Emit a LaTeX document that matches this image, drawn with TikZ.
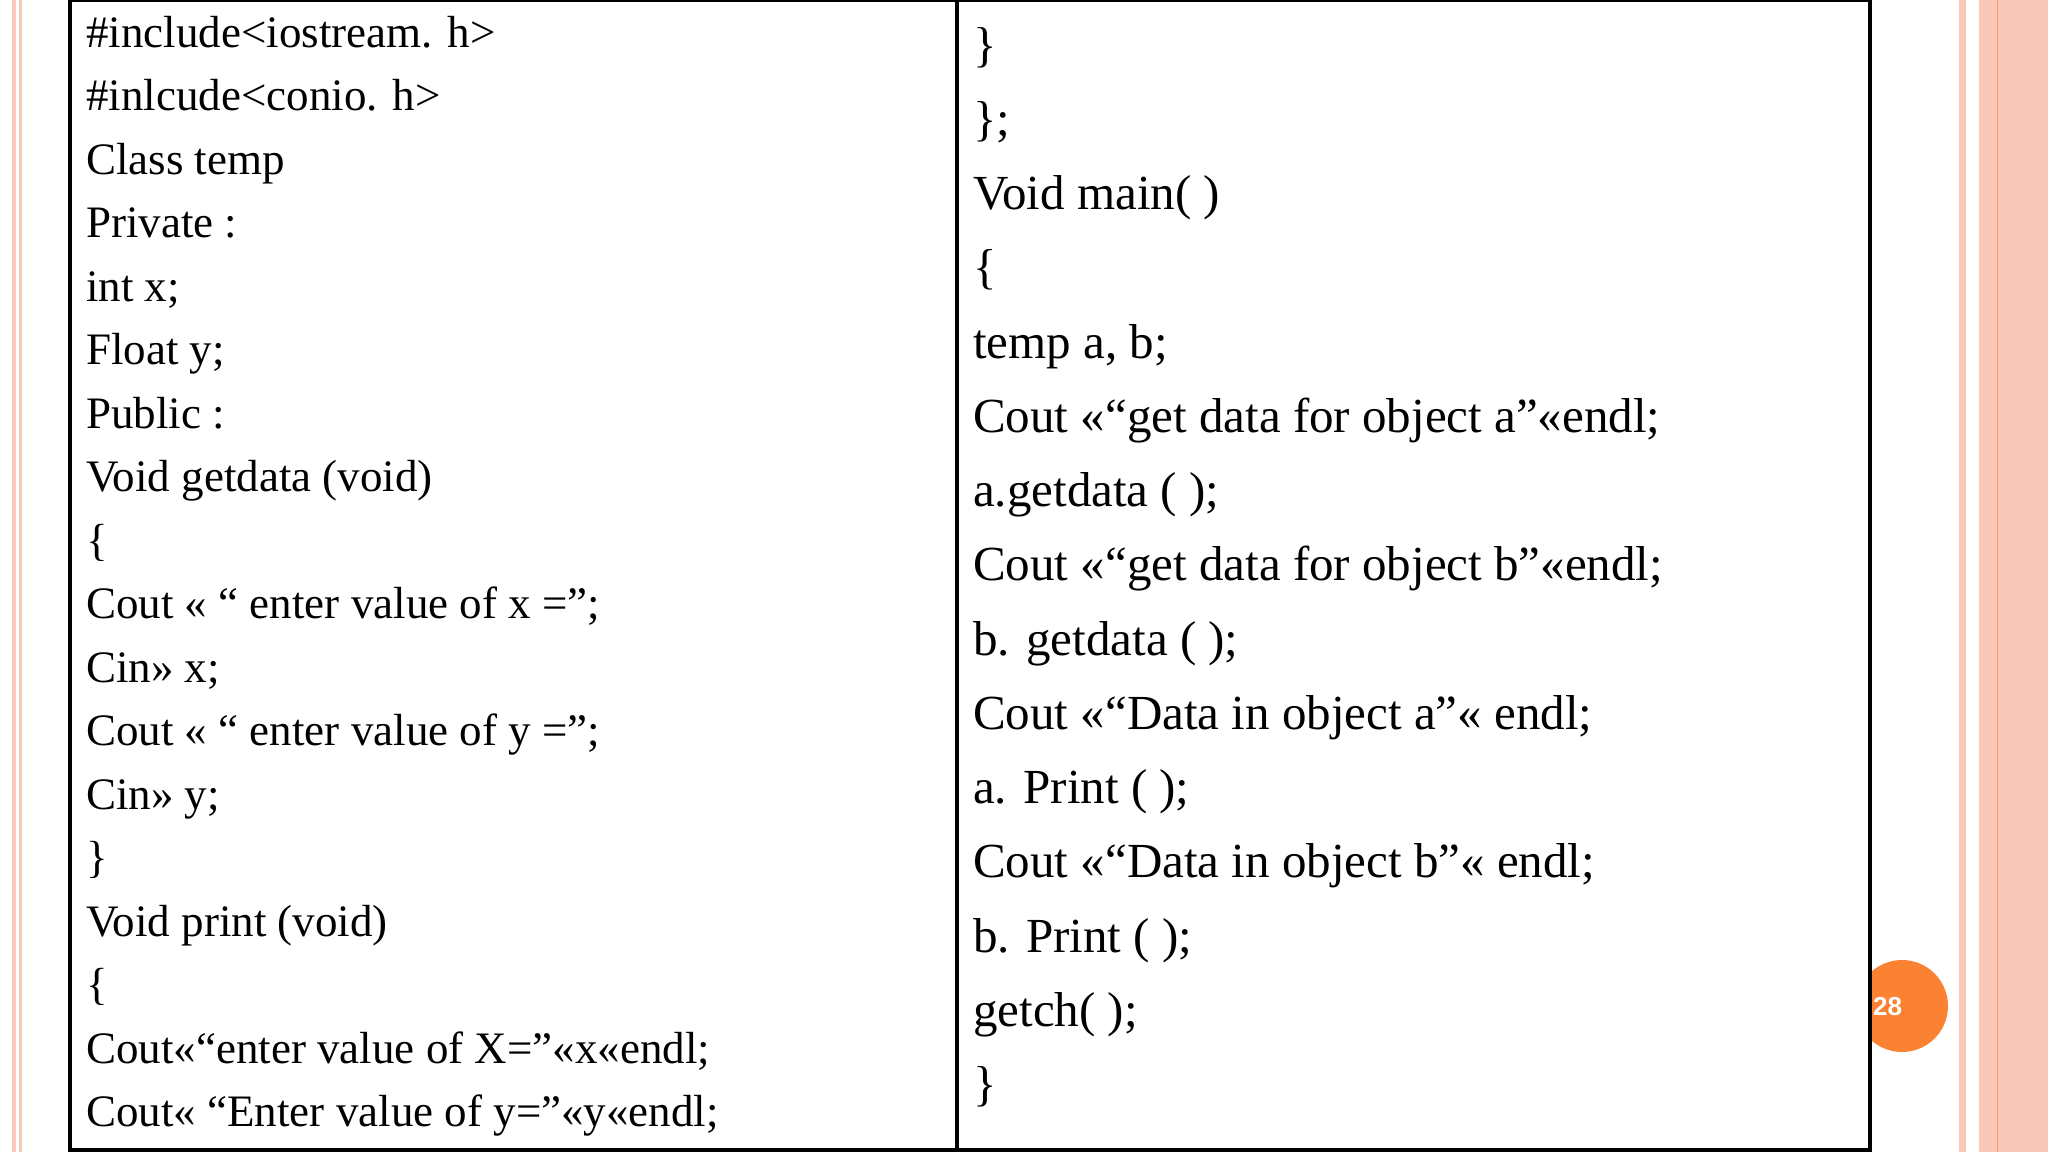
\documentclass[tikz,border=0pt]{standalone}
\usepackage{fontspec}
\setmainfont{Liberation Serif}
\newfontfamily\numfont{Liberation Sans}
\definecolor{pinkl}{RGB}{250,200,185}
\definecolor{orng}{RGB}{250,130,50}
\begin{document}
\begin{tikzpicture}[x=1pt,y=-1pt,
  lc/.style={anchor=base west,inner sep=0pt,font=\fontsize{45}{50}\selectfont},
  rc/.style={anchor=base west,inner sep=0pt,font=\fontsize{49}{55}\selectfont}]
\useasboundingbox (0,0) rectangle (2048,1152);
\fill[white] (0,0) rectangle (2048,1152);
% decorative stripes
\fill[pinkl] (12,0) rectangle (16,1152);
\fill[pinkl] (19,0) rectangle (22,1152);
\fill[pinkl] (1959,0) rectangle (1966,1152);
\fill[pinkl] (1979,0) rectangle (2048,1152);
\draw[orng!80,line width=1] (1997,0) -- (1997,1152);
% page number
\node[circle,fill=orng,minimum size=92,inner sep=0pt] (pg) at (1902,1006) {};
\fill[white] (72,0) rectangle (1868,1152);
\draw[line width=4] (70,0) rectangle (1870,1150);
\draw[line width=4] (957,0) -- (957,1150);
\node[anchor=west,text=white,inner sep=0pt,font=\numfont\bfseries\fontsize{26}{30}\selectfont] (pgn) at (1873,1007) {28};
% left column
\node[lc] (l1) at (86,47) {\#include<iostream. h>};
\node[lc] (l2) at (86,110.5) {\#inlcude<conio. h>};
\node[lc] (l3) at (86,174) {Class temp};
\node[lc] (l4) at (86,237.5) {Private :};
\node[lc] (l5) at (86,301) {int x;};
\node[lc] (l6) at (86,364.5) {Float y;};
\node[lc] (l7) at (86,428) {Public :};
\node[lc] (l8) at (86,491.5) {Void getdata (void)};
\node[lc] (l9) at (86,555) {\{};
\node[lc] (l10) at (86,618.5) {Cout << “ enter value of x =”;};
\node[lc] (l11) at (86,682) {Cin>> x;};
\node[lc] (l12) at (86,745.5) {Cout << “ enter value of y =”;};
\node[lc] (l13) at (86,809) {Cin>> y;};
\node[lc] (l14) at (86,872.5) {\}};
\node[lc] (l15) at (86,936) {Void print (void)};
\node[lc] (l16) at (86,999.5) {\{};
\node[lc] (l17) at (86,1063) {Cout<<“enter value of X=”<<x<<endl;};
\node[lc] (l18) at (86,1126.5) {Cout<< “Enter value of y=”<<y<<endl;};
% right column
\node[rc] (r1) at (973,61) {\}};
\node[rc] (r2) at (973,135) {\};};
\node[rc] (r3) at (973,209) {Void main( )};
\node[rc] (r4) at (973,283) {\{};
\node[rc] (r5) at (973,358) {temp a, b;};
\node[rc] (r6) at (973,432) {Cout <<“get data for object a”<<endl;};
\node[rc] (r7) at (973,506) {a.getdata ( );};
\node[rc] (r8) at (973,580) {Cout <<“get data for object b”<<endl;};
\node[rc] (r9) at (973,655) {b. getdata ( );};
\node[rc] (r10) at (973,729) {Cout <<“Data in object a”<< endl;};
\node[rc] (r11) at (973,803) {a. Print ( );};
\node[rc] (r12) at (973,877) {Cout <<“Data in object b”<< endl;};
\node[rc] (r13) at (973,952) {b. Print ( );};
\node[rc] (r14) at (973,1026) {getch( );};
\node[rc] (r15) at (973,1100) {\}};
\end{tikzpicture}
\end{document}
